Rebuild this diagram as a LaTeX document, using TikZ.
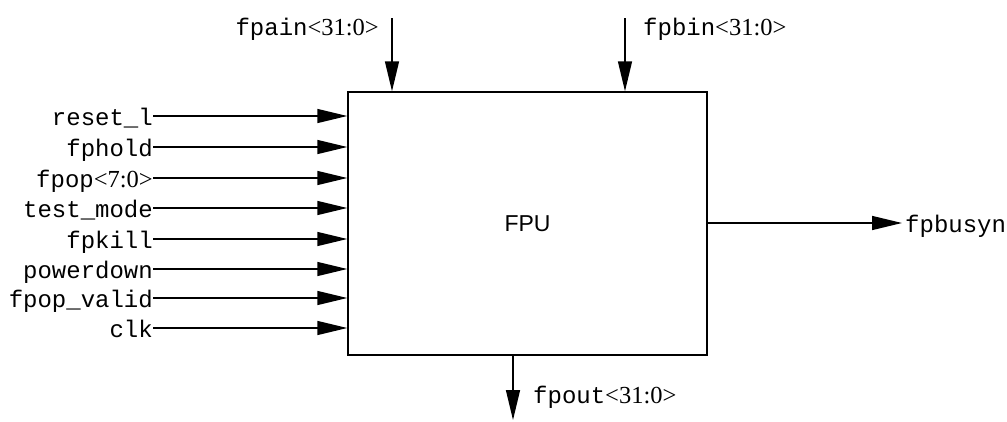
\documentclass[tikz,border=0pt]{standalone}
\usepackage{fontspec}
\setmainfont{Liberation Serif}
\setmonofont{Liberation Mono}
\setsansfont{Liberation Sans}
\usetikzlibrary{arrows.meta,positioning}
\newcommand{\pinfont}{\ttfamily\fontsize{24}{27}\selectfont}
\newcommand{\bus}[2]{#1{\rmfamily\fontsize{24.5}{27}\selectfont<#2>}}
\tikzset{
  sig/.style={-{Triangle[length=30pt,width=14pt]},line width=1.5pt,black},
  blk/.style={draw,line width=1.5pt,minimum width=359pt,minimum height=263pt,inner sep=0pt,
    font=\sffamily\fontsize{23}{26}\selectfont},
  pin/.style={inner sep=0pt,text height=18pt,text depth=0pt,font=\pinfont}
}
\begin{document}
\begin{tikzpicture}[x=1pt,y=-1pt]
\useasboundingbox (0,0) rectangle (1007,421);
% block
\node[blk] (fpu) at (527.5,223.5) {FPU};
% inputs on the left
\node[pin,anchor=east] (rst)  at (153,116) {reset\_l};
\node[pin,anchor=east] (hold) at (153,147) {fphold};
\node[pin,anchor=east] (op)   at (153,178) {\bus{fpop}{7:0}};
\node[pin,anchor=east] (tm)   at (153,208) {test\_mode};
\node[pin,anchor=east] (kill) at (153,239) {fpkill};
\node[pin,anchor=east] (pd)   at (153,269) {powerdown};
\node[pin,anchor=east] (val)  at (153,298) {fpop\_valid};
\node[pin,anchor=east] (clk)  at (153,328) {clk};
\foreach \n in {rst,hold,op,tm,kill,pd,val,clk}
  \draw[sig] (\n.east) -- (\n.east -| fpu.west);
% operand buses on top
\coordinate (ain) at (392,18);
\coordinate (bin) at (625,18);
\node[pin,anchor=east] (ainlbl) at (379,26) {\bus{fpain}{31:0}};
\node[pin,anchor=west] (binlbl) at (643,26) {\bus{fpbin}{31:0}};
\draw[sig] (ain) -- (ain |- fpu.north);
\draw[sig] (bin) -- (bin |- fpu.north);
% outputs
\coordinate (out) at (513,420);
\coordinate (busy) at (902,223);
\draw[sig] (out |- fpu.south) -- (out);
\node[pin,anchor=west] (outlbl) at (533,394) {\bus{fpout}{31:0}};
\draw[sig] (fpu.east |- busy) -- (busy);
\node[pin,anchor=west] (busylbl) at (905,223) {fpbusyn};
\end{tikzpicture}
\end{document}
